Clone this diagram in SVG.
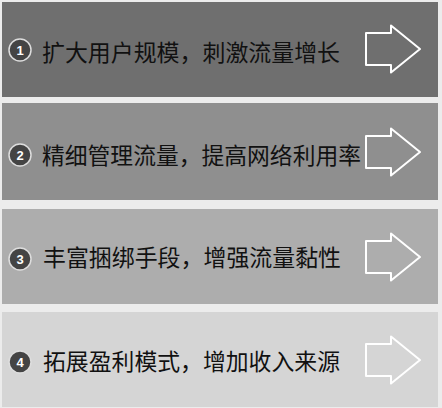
<svg xmlns="http://www.w3.org/2000/svg" width="442" height="408" viewBox="0 0 442 408">
<defs>
<style>
.t{font-family:"Noto Sans CJK SC","Noto Sans CJK TC",sans-serif;font-size:23px;fill:#111;dominant-baseline:central}
.c{fill:#444;stroke:#ddd;stroke-width:1.5}
.n{font-family:"Liberation Sans",Arial,sans-serif;font-size:13px;font-weight:bold;fill:#fff;text-anchor:middle;dominant-baseline:central}
.a{fill:none;stroke:#fff;stroke-width:2;stroke-linejoin:round}
</style>
<path id="arr" d="M0,-16 H25 V-23.5 L54,0 L25,23.5 V16 H0 Z"/>
</defs>
<rect width="442" height="408" fill="#ececec"/>
<g id="step1">
<rect x="2" y="2" width="436" height="95" fill="#6f6f6f"/>
<circle class="c" cx="20" cy="50" r="11"/>
<text class="n" x="20" y="50">1</text>
<text class="t" x="42" y="51" textLength="298" lengthAdjust="spacingAndGlyphs">扩大用户规模，刺激流量增长</text>
<use href="#arr" class="a" x="366" y="49"/>
</g>
<g id="step2">
<rect x="2" y="103" width="436" height="97" fill="#8f8f8f"/>
<circle class="c" cx="20" cy="155" r="11"/>
<text class="n" x="20" y="155">2</text>
<text class="t" x="42" y="154" textLength="319" lengthAdjust="spacingAndGlyphs">精细管理流量，提高网络利用率</text>
<use href="#arr" class="a" x="366" y="152"/>
</g>
<g id="step3">
<rect x="2" y="209" width="436" height="95" fill="#adadad"/>
<circle class="c" cx="20" cy="259" r="11"/>
<text class="n" x="20" y="259">3</text>
<text class="t" x="43" y="256" textLength="298" lengthAdjust="spacingAndGlyphs">丰富捆绑手段，增强流量黏性</text>
<use href="#arr" class="a" x="366" y="257"/>
</g>
<g id="step4">
<rect x="2" y="312" width="436" height="95" fill="#d5d5d5"/>
<circle class="c" cx="20" cy="362" r="11"/>
<text class="n" x="20" y="362">4</text>
<text class="t" x="43" y="360" textLength="297" lengthAdjust="spacingAndGlyphs">拓展盈利模式，增加收入来源</text>
<use href="#arr" class="a" x="366" y="360"/>
</g>
<g id="connectors"/>
</svg>
